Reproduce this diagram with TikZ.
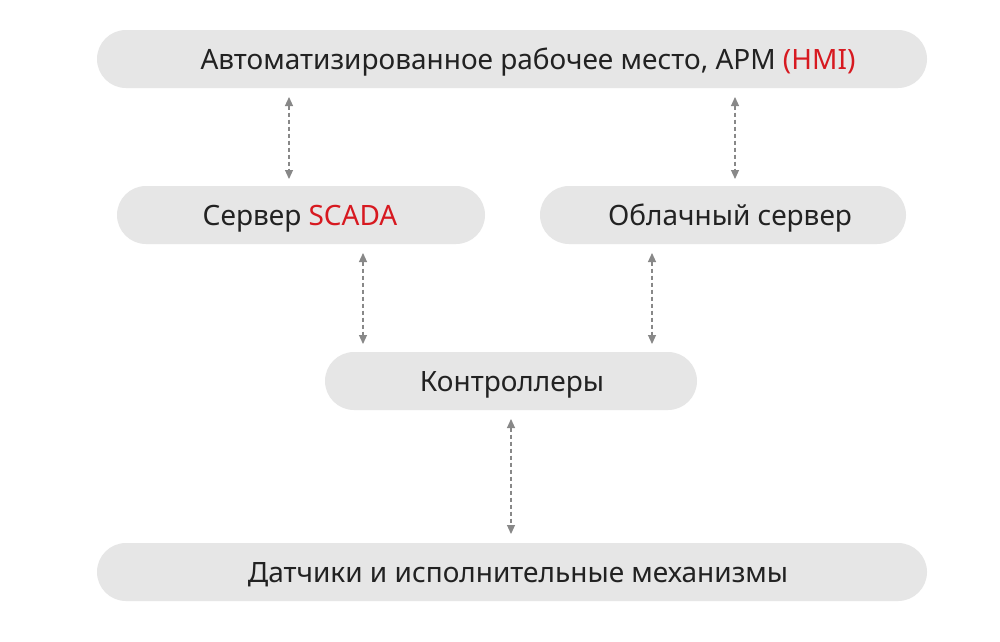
\documentclass[tikz,border=0pt]{standalone}
\usepackage{fontspec}
\setmainfont{Noto Sans}
\usetikzlibrary{arrows.meta}
\definecolor{boxgray}{HTML}{E6E6E6}
\definecolor{accent}{HTML}{D71920}
\definecolor{txt}{HTML}{222222}
\definecolor{arr}{HTML}{888888}
\begin{document}
\begin{tikzpicture}[x=1pt,y=-1pt,
  box/.style={fill=boxgray,draw=none,rounded corners=29pt,minimum height=58pt,inner sep=0pt},
  lbl/.style={text=txt,font=\fontsize{28}{32}\selectfont,inner sep=0pt,anchor=base},
  link/.style={draw=arr,line width=1.1pt,dash pattern=on 4pt off 3pt,{Triangle[length=9pt,width=8pt]}-{Triangle[length=9pt,width=8pt]}}]
\useasboundingbox[fill=white] (0,0) rectangle (1000,641);
\node[box,minimum width=830pt] (hmi) at (512,59) {};
\node[box,minimum width=368pt] (scada) at (301,215) {};
\node[box,minimum width=366pt] (cloud) at (723,215) {};
\node[box,minimum width=372pt] (ctrl) at (511,381) {};
\node[box,minimum width=830pt] (field) at (512,572) {};
\node[lbl] (thmi) at (528,69) {Автоматизированное рабочее место, АРМ \textcolor{accent}{(HMI)}};
\node[lbl] (tscada) at (300,225) {Сервер \textcolor{accent}{SCADA}};
\node[lbl] (tcloud) at (730,225) {Облачный сервер};
\node[lbl] (tctrl) at (512,391) {Контроллеры};
\node[lbl] (tfield) at (518,582) {Датчики и исполнительные механизмы};
\coordinate (a1) at (289,97); \coordinate (b1) at (289,179);
\coordinate (a2) at (735,97); \coordinate (b2) at (735,179);
\coordinate (a3) at (363,253); \coordinate (b3) at (363,344);
\coordinate (a4) at (652,253); \coordinate (b4) at (652,344);
\coordinate (a5) at (511,419); \coordinate (b5) at (511,534);
\draw[link] (a1) -- (b1);
\draw[link] (a2) -- (b2);
\draw[link] (a3) -- (b3);
\draw[link] (a4) -- (b4);
\draw[link] (a5) -- (b5);
\end{tikzpicture}
\end{document}
